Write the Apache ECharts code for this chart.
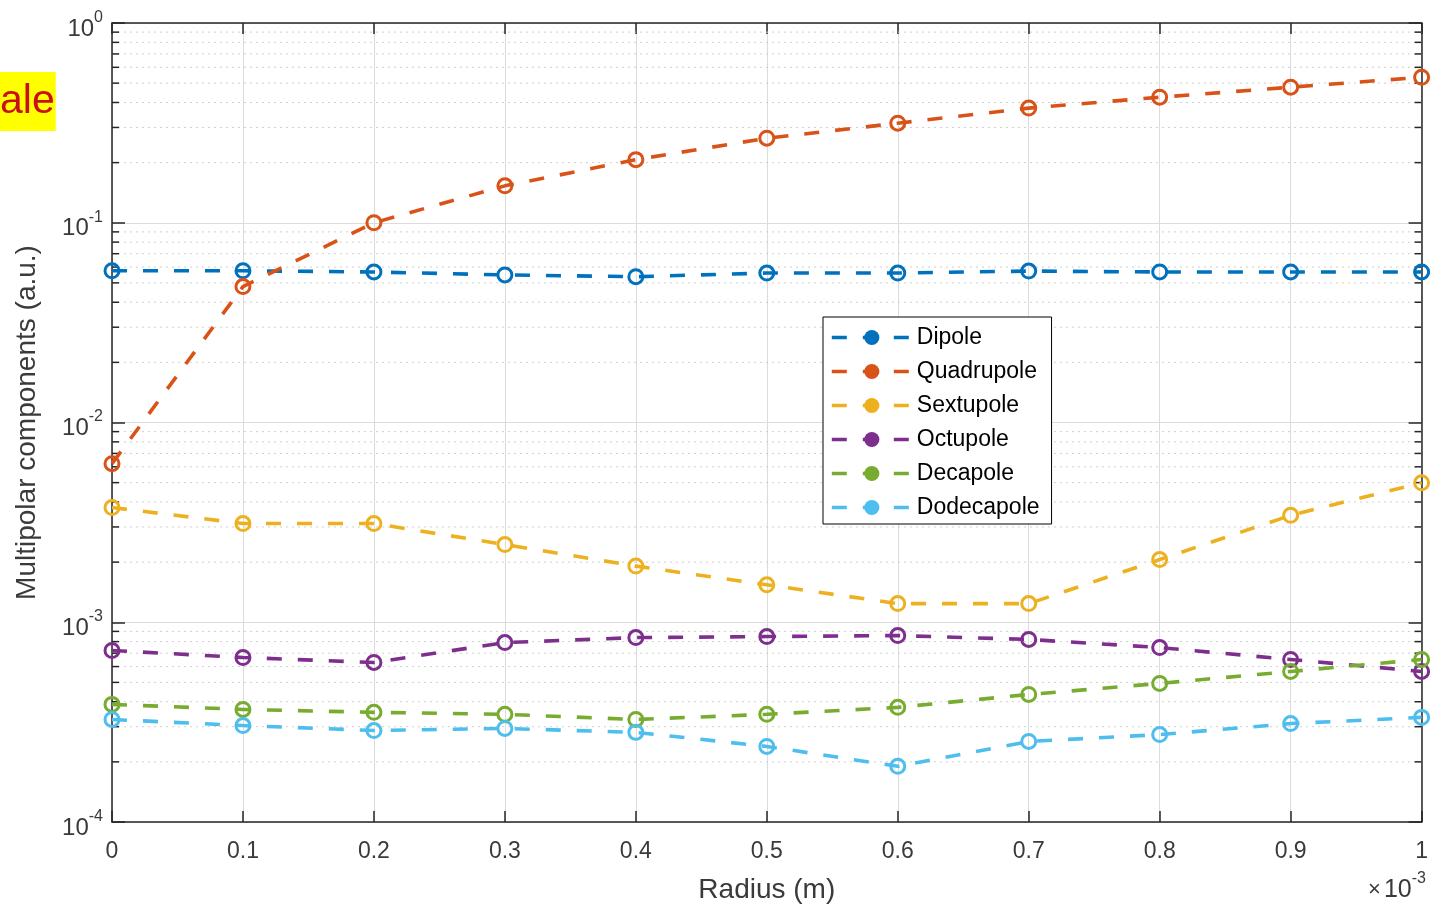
<!DOCTYPE html>
<html>
<head>
<meta charset="utf-8">
<script src="https://cdn.jsdelivr.net/npm/echarts@6/dist/echarts.min.js"></script>
<style>
  html, body { margin: 0; padding: 0; background: #fff; }
  #chart { width: 1431px; height: 909px; }
</style>
</head>
<body>
<div id="chart"></div>
<script>
// Radius in units of 1e-3 m
const radius = [0, 0.1, 0.2, 0.3, 0.4, 0.5, 0.6, 0.7, 0.8, 0.9, 1.0];

const dipole      = [0.0575, 0.0575, 0.0567, 0.0548, 0.0537, 0.0560, 0.0560, 0.0573, 0.0567, 0.0567, 0.0567];
const quadrupole  = [0.00622, 0.0479, 0.100, 0.153, 0.207, 0.265, 0.315, 0.375, 0.425, 0.477, 0.535];
const sextupole   = [0.00375, 0.00312, 0.00312, 0.00245, 0.00191, 0.00154, 0.00124, 0.00124, 0.00206, 0.00343, 0.00499];
const octupole    = [0.000722, 0.000666, 0.000629, 0.000791, 0.000838, 0.000848, 0.000858, 0.000820, 0.000747, 0.000651, 0.000567];
const decapole    = [0.000388, 0.000366, 0.000354, 0.000346, 0.000326, 0.000346, 0.000375, 0.000435, 0.000494, 0.000567, 0.000651];
const dodecapole  = [0.000326, 0.000304, 0.000287, 0.000294, 0.000281, 0.000239, 0.000190, 0.000253, 0.000274, 0.000311, 0.000334];

const seriesNames  = ['Dipole', 'Quadrupole', 'Sextupole', 'Octupole', 'Decapole', 'Dodecapole'];
const seriesValues = [dipole, quadrupole, sextupole, octupole, decapole, dodecapole];
const seriesColors = ['#0072BD', '#D95319', '#EDB120', '#7E2F8E', '#77AC30', '#4DBEEE'];

// Decade range of the log axis
const yMin = 1e-4, yMax = 1;
// Minor gridline positions: 2..9 times each decade
const minorTicks = [];
for (let d = -4; d < 0; d++) {
  for (let m = 2; m <= 9; m++) minorTicks.push(m * Math.pow(10, d));
}

const FONT = '"Liberation Sans", Arial, sans-serif';
const AXIS_COLOR = '#262626';
const TEXT_COLOR = '#3a3a3a';
const DASH = [15, 16];

const chart = echarts.init(document.getElementById('chart'), null, { renderer: 'canvas' });

const lineSeries = seriesNames.map((name, i) => ({
  name: name,
  type: 'line',
  data: radius.map((x, j) => [x, seriesValues[i][j]]),
  symbol: 'circle',
  symbolSize: 14,
  showSymbol: true,
  lineStyle: { color: seriesColors[i], width: 3.6, type: DASH },
  itemStyle: { color: 'rgba(255,255,255,0)', borderColor: seriesColors[i], borderWidth: 3 },
  emphasis: { disabled: true },
  z: 5 + i,
  clip: false
}));

// Dotted minor grid and inward minor ticks on the left and right axes
const minorSeries = {
  type: 'custom',
  name: 'minor',
  silent: true,
  z: 1,
  data: minorTicks.map(v => [0, v]),
  encode: { x: 0, y: 1 },
  renderItem: function (params, api) {
    const cs = params.coordSys;
    const y = api.coord([0, api.value(1)])[1];
    const left = cs.x, right = cs.x + cs.width;
    return {
      type: 'group',
      children: [
        { type: 'line', shape: { x1: left, y1: y, x2: right, y2: y },
          style: { stroke: '#cfcfcf', lineWidth: 1, lineDash: [2, 4] } },
        { type: 'line', shape: { x1: left, y1: y, x2: left + 7, y2: y },
          style: { stroke: AXIS_COLOR, lineWidth: 1.5 } },
        { type: 'line', shape: { x1: right - 7, y1: y, x2: right, y2: y },
          style: { stroke: AXIS_COLOR, lineWidth: 1.5 } }
      ]
    };
  }
};

const option = {
  backgroundColor: '#ffffff',
  animation: false,
  grid: { left: 112, right: 5, top: 23, bottom: 86, containLabel: false },
  legend: {
    orient: 'vertical',
    left: 823,
    top: 317,
    data: seriesNames.map((n, i) => ({
      name: n,
      itemStyle: { color: seriesColors[i], borderColor: seriesColors[i], borderWidth: 0 },
      lineStyle: { color: seriesColors[i], width: 3.6, type: DASH }
    })),
    itemWidth: 80,
    itemHeight: 19,
    itemGap: 11,
    padding: [9, 12, 5, 7],
    backgroundColor: '#ffffff',
    borderColor: '#000000',
    borderWidth: 1,
    borderRadius: 0,
    textStyle: { fontFamily: FONT, fontSize: 23, lineHeight: 22, color: '#000000' }
  },
  xAxis: [
    {
      type: 'value',
      position: 'bottom',
      min: 0, max: 1, interval: 0.1,
      name: 'Radius (m)',
      nameLocation: 'middle',
      nameGap: 54,
      nameTextStyle: { fontFamily: FONT, fontSize: 28, color: TEXT_COLOR },
      axisLine: { show: true, onZero: false, lineStyle: { color: AXIS_COLOR, width: 1.5 } },
      axisTick: { show: true, inside: true, length: 11, lineStyle: { color: AXIS_COLOR, width: 1.5 } },
      axisLabel: {
        margin: 18, fontFamily: FONT, fontSize: 23, color: TEXT_COLOR,
        formatter: v => String(+v.toFixed(1))
      },
      splitLine: { show: true, lineStyle: { color: '#dcdcdc', width: 1 } }
    },
    {
      type: 'value',
      position: 'top',
      min: 0, max: 1, interval: 0.1,
      axisLine: { show: true, onZero: false, lineStyle: { color: AXIS_COLOR, width: 1.5 } },
      axisTick: { show: true, inside: true, length: 11, lineStyle: { color: AXIS_COLOR, width: 1.5 } },
      axisLabel: { show: false },
      splitLine: { show: false }
    }
  ],
  yAxis: [
    {
      type: 'log',
      logBase: 10,
      position: 'left',
      min: yMin, max: yMax,
      name: 'Multipolar components (a.u.)',
      nameLocation: 'middle',
      nameGap: 71,
      nameRotate: 90,
      nameTextStyle: { fontFamily: FONT, fontSize: 28, color: TEXT_COLOR },
      axisLine: { show: true, onZero: false, lineStyle: { color: AXIS_COLOR, width: 1.5 } },
      axisTick: { show: true, inside: true, length: 13, lineStyle: { color: AXIS_COLOR, width: 1.5 } },
      axisLabel: {
        margin: 9,
        formatter: v => '{b|10}{e|' + Math.round(Math.log10(v)) + '}',
        rich: {
          b: { fontFamily: FONT, fontSize: 24, color: TEXT_COLOR, padding: [12, 0, 0, 0] },
          e: { fontFamily: FONT, fontSize: 16, color: TEXT_COLOR, padding: [0, 0, 11, 0] }
        }
      },
      splitLine: { show: true, lineStyle: { color: '#dcdcdc', width: 1 } }
    },
    {
      type: 'log',
      logBase: 10,
      position: 'right',
      min: yMin, max: yMax,
      axisLine: { show: true, onZero: false, lineStyle: { color: AXIS_COLOR, width: 1.5 } },
      axisTick: { show: true, inside: true, length: 13, lineStyle: { color: AXIS_COLOR, width: 1.5 } },
      axisLabel: { show: false },
      splitLine: { show: false }
    }
  ],
  graphic: [
    {
      type: 'text',
      right: 5,
      top: 871,
      style: {
        text: '{m|\u00D7}{b|10}{e|-3}',
        rich: {
          m: { fontFamily: FONT, fontSize: 22, fill: TEXT_COLOR, padding: [11, 3, 0, 0] },
          b: { fontFamily: FONT, fontSize: 25, fill: TEXT_COLOR, padding: [11, 0, 0, 0] },
          e: { fontFamily: FONT, fontSize: 16, fill: TEXT_COLOR, padding: [0, 0, 11, 0] }
        }
      }
    },
    {
      type: 'text',
      left: 0,
      top: 72,
      z: 100,
      style: {
        text: 'ale',
        fill: '#C8101A',
        font: '41px "Liberation Sans", Arial, sans-serif',
        backgroundColor: '#FFFF00',
        padding: [9, 1, 9, 0]
      }
    }
  ],
  series: [minorSeries].concat(lineSeries)
};

chart.setOption(option);
</script>
</body>
</html>
